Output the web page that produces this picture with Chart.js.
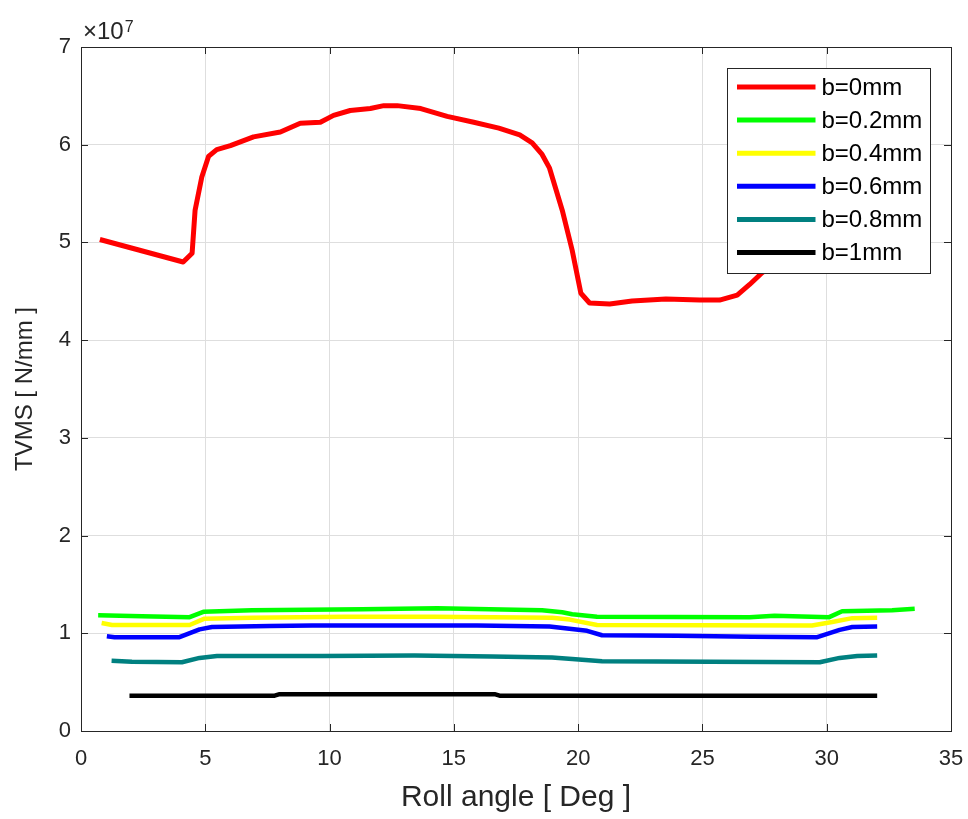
<!DOCTYPE html>
<html>
<head>
<meta charset="utf-8">
<script src="https://cdn.jsdelivr.net/npm/chart.js@4.4.1/dist/chart.umd.min.js"></script>
<style>
html,body{margin:0;padding:0;background:#fff;}
#wrap{width:968px;height:819px;}
</style>
</head>
<body>
<div id="wrap"><canvas id="c" width="968" height="819"></canvas></div>
<script>
// ---- data (TVMS in units of 1e7 N/mm) ----
const seriesLabels = ['b=0mm','b=0.2mm','b=0.4mm','b=0.6mm','b=0.8mm','b=1mm'];
const seriesColors = ['#ff0000','#00ff00','#ffff00','#0000ff','#008080','#000000'];

const xB0 = [0.76, 4.11, 4.47, 4.59, 4.86, 5.13, 5.46, 6.01, 6.94, 8.02, 8.82, 9.63, 10.16, 10.83, 11.64, 12.18, 12.72, 13.67, 14.73, 15.80, 16.81, 17.65, 18.15, 18.55, 18.85, 19.36, 19.76, 20.11, 20.46, 21.27, 22.17, 23.53, 24.89, 25.69, 26.40, 26.90, 27.40, 28.2, 29.2, 30.2, 31.2, 32.0];
const yB0 = [5.03, 4.80, 4.89, 5.33, 5.67, 5.88, 5.95, 5.99, 6.08, 6.13, 6.22, 6.23, 6.30, 6.35, 6.37, 6.40, 6.40, 6.37, 6.29, 6.23, 6.17, 6.10, 6.02, 5.90, 5.76, 5.33, 4.92, 4.48, 4.38, 4.37, 4.40, 4.42, 4.41, 4.41, 4.46, 4.57, 4.69, 4.85, 4.97, 5.02, 5.04, 5.02];

const xB02 = [0.69, 2.45, 4.37, 4.92, 6.88, 11.31, 14.33, 18.55, 19.36, 19.76, 20.76, 26.9, 27.9, 30.1, 30.62, 32.63, 33.54];
const yB02 = [1.185, 1.175, 1.165, 1.22, 1.235, 1.245, 1.255, 1.235, 1.215, 1.195, 1.17, 1.165, 1.18, 1.165, 1.225, 1.235, 1.25];

const xB04 = [0.83, 1.25, 4.37, 4.97, 6.88, 10.6, 14.22, 18.95, 19.66, 20.76, 29.41, 30.22, 31.03, 32.03];
const yB04 = [1.105, 1.085, 1.085, 1.15, 1.16, 1.17, 1.17, 1.16, 1.14, 1.085, 1.08, 1.115, 1.155, 1.16];

const xB06 = [1.04, 1.35, 3.96, 4.77, 5.27, 7.59, 9.3, 15.93, 18.85, 19.56, 20.36, 20.96, 23.98, 27.0, 29.62, 30.52, 31.03, 32.03];
const yB06 = [0.97, 0.96, 0.96, 1.04, 1.065, 1.075, 1.08, 1.08, 1.07, 1.05, 1.025, 0.98, 0.975, 0.965, 0.96, 1.035, 1.065, 1.07];

const xB08 = [1.23, 2.05, 4.06, 4.77, 5.47, 9.7, 13.42, 16.54, 18.95, 19.76, 20.96, 29.72, 30.52, 31.23, 32.03];
const yB08 = [0.718, 0.708, 0.703, 0.748, 0.768, 0.768, 0.773, 0.763, 0.753, 0.738, 0.713, 0.703, 0.748, 0.768, 0.773];

const xB1 = [1.95, 7.79, 7.99, 16.64, 16.84, 32.03];
const yB1 = [0.362, 0.362, 0.377, 0.377, 0.362, 0.362];

const xTicks = [0, 5, 10, 15, 20, 25, 30, 35];
const yTicks = [0, 1, 2, 3, 4, 5, 6, 7];
const yExponent = '7';

const seriesX = [xB0, xB02, xB04, xB06, xB08, xB1];
const seriesY = [yB0, yB02, yB04, yB06, yB08, yB1];

// ---- chart ----
const FONT = '"Liberation Sans", Arial, Helvetica, sans-serif';
const AXC = '#262626';

const datasets = seriesLabels.map((lab, i) => ({
  label: lab,
  data: seriesX[i].map((x, j) => ({x: x, y: seriesY[i][j]})),
  borderColor: seriesColors[i],
  backgroundColor: seriesColors[i],
  borderWidth: i === 0 ? 5 : 4.5,
  pointRadius: 0,
  tension: 0,
  fill: false,
  borderJoinStyle: 'round',
  borderCapStyle: 'butt',
  order: seriesLabels.length - 1 - i
}));

const decorPlugin = {
  id: 'decor',
  afterDatasetsDraw(chart) {
    const ctx = chart.ctx;
    const a = chart.chartArea;
    const xs = chart.scales.x, ys = chart.scales.y;
    ctx.save();
    // box
    ctx.strokeStyle = AXC;
    ctx.lineWidth = 1;
    ctx.strokeRect(Math.round(a.left) + 0.5, Math.round(a.top) + 0.5, Math.round(a.right - a.left), Math.round(a.bottom - a.top));
    // inward ticks
    const tl = 7;
    ctx.beginPath();
    xTicks.forEach(v => {
      const px = Math.round(xs.getPixelForValue(v)) + 0.5;
      ctx.moveTo(px, a.bottom); ctx.lineTo(px, a.bottom - tl);
      ctx.moveTo(px, a.top); ctx.lineTo(px, a.top + tl);
    });
    yTicks.forEach(v => {
      const py = Math.round(ys.getPixelForValue(v)) + 0.5;
      ctx.moveTo(a.left, py); ctx.lineTo(a.left + tl, py);
      ctx.moveTo(a.right, py); ctx.lineTo(a.right - tl, py);
    });
    ctx.stroke();
    // exponent label
    ctx.fillStyle = AXC;
    ctx.textBaseline = 'alphabetic';
    ctx.textAlign = 'left';
    ctx.font = '24px ' + FONT;
    const base = '\u00d710';
    ctx.fillText(base, a.left + 2, a.top - 8);
    const w = ctx.measureText(base).width;
    ctx.font = '16px ' + FONT;
    ctx.fillText(yExponent, a.left + 3 + w, a.top - 15);
    // legend
    const bw = 203, bh = 205;
    const bx = Math.round(a.right - 21 - bw) + 0.5;
    const by = Math.round(a.top + 21) + 0.5;
    ctx.fillStyle = '#ffffff';
    ctx.fillRect(bx, by, bw, bh);
    ctx.strokeStyle = AXC;
    ctx.lineWidth = 1;
    ctx.strokeRect(bx, by, bw, bh);
    ctx.font = '24px ' + FONT;
    ctx.textBaseline = 'middle';
    seriesLabels.forEach((lab, i) => {
      const ry = by + 18.5 + i * 33.1;
      ctx.strokeStyle = seriesColors[i];
      ctx.lineWidth = 5;
      ctx.beginPath();
      ctx.moveTo(bx + 9.5, ry);
      ctx.lineTo(bx + 88, ry);
      ctx.stroke();
      ctx.fillStyle = '#000000';
      ctx.fillText(lab, bx + 94, ry + 1);
    });
    ctx.restore();
  }
};

new Chart(document.getElementById('c'), {
  type: 'line',
  data: { datasets: datasets },
  options: {
    responsive: false,
    animation: false,
    events: [],
    layout: { padding: { top: 47, right: 17, left: 0, bottom: 0 } },
    plugins: { legend: { display: false }, tooltip: { enabled: false } },
    scales: {
      x: {
        type: 'linear',
        min: 0, max: 35,
        afterBuildTicks(scale) { scale.ticks = xTicks.map(v => ({value: v})); },
        afterFit(scale) { scale.height = 88; scale.paddingLeft = 0; scale.paddingRight = 0; },
        grid: { color: '#dedede', lineWidth: 1, drawTicks: false },
        border: { display: false },
        ticks: { color: AXC, font: { family: FONT, size: 22 }, padding: 15, maxRotation: 0, autoSkip: false },
        title: { display: true, text: 'Roll angle [ Deg ]', color: AXC, font: { family: FONT, size: 30 }, padding: { top: 0, bottom: 3 } }
      },
      y: {
        type: 'linear',
        min: 0, max: 7,
        afterBuildTicks(scale) { scale.ticks = yTicks.map(v => ({value: v})); },
        afterFit(scale) { scale.width = 81; scale.paddingTop = 0; scale.paddingBottom = 0; },
        grid: { color: '#dedede', lineWidth: 1, drawTicks: false },
        border: { display: false },
        ticks: { color: AXC, font: { family: FONT, size: 22 }, padding: 10, autoSkip: false },
        title: { display: true, text: 'TVMS [ N/mm ]', color: AXC, font: { family: FONT, size: 24 }, padding: { top: 11, bottom: 0 } }
      }
    }
  },
  plugins: [decorPlugin]
});
</script>
</body>
</html>
